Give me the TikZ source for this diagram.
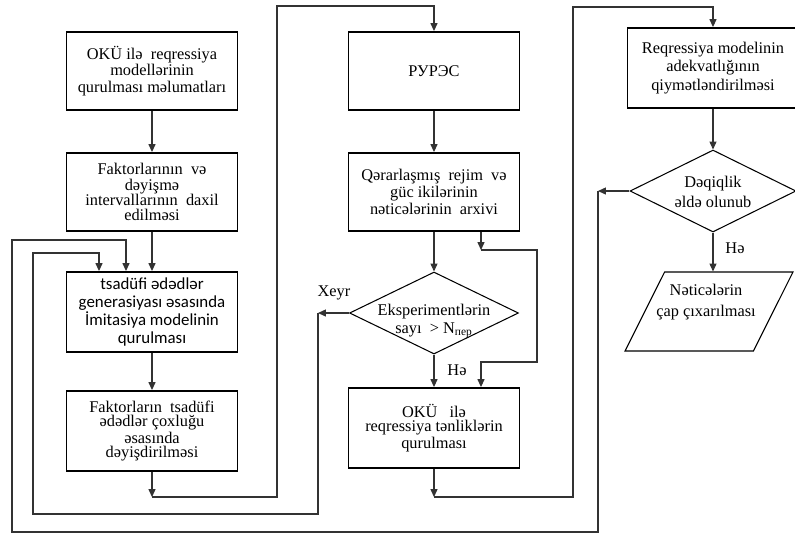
\documentclass[tikz,border=0pt]{standalone}
\usepackage{fontspec}
\setmainfont{Liberation Serif}
\newfontfamily\calib{Carlito}
\usetikzlibrary{shapes.geometric, arrows.meta}
\tikzset{
	>={Triangle[length=4.5pt,width=4pt]}, % puntas de flecha rellenas
	blk/.style={draw, line width=1.1pt, minimum width=3.42cm, minimum height=1.56cm, inner sep=1pt, align=center, font=\fontsize{9.3}{9.5}\selectfont}, % bloques de proceso
	cond/.style={diamond, draw, line width=0.6pt, minimum width=3.38cm, minimum height=1.64cm, inner sep=1pt}, % bloques de decision
	salida/.style={trapezium, trapezium left angle=66, trapezium right angle=114, trapezium stretches=true, draw, line width=0.6pt, minimum width=3.36cm, minimum height=1.58cm, inner sep=1pt}, % bloque de impresion
	txt/.style={align=center, inner sep=0pt, font=\fontsize{9.3}{10.2}\selectfont}, % textos sueltos
	lnk/.style={line width=0.6pt, draw=black!80} % conectores
}

\begin{document}
\begin{tikzpicture}[x=0.02cm, y=-0.02cm]
	\useasboundingbox (0,0) rectangle (795,535);
	\clip (0,0) rectangle (795,535);
	% primera columna
	\node[blk] (box1) at (152,71) {OKÜ ilə\ \ reqressiya\\ modellərinin\\ qurulması məlumatları};
	\node[blk, font=\fontsize{9.3}{8.6}\selectfont] (box2) at (152,192) {Faktorlarının\ \ və\\ dəyişmə\\ intervallarının\ \ daxil\\ edilməsi};
	\node[blk, minimum height=1.6cm, font=\calib\fontsize{9.6}{10.3}\selectfont] (box3) at (152,312) {tsadüfi ədədlər\\ generasiyası əsasında\\ İmitasiya modelinin\\ qurulması};
	\node[blk, minimum height=1.6cm, font=\fontsize{9.3}{8}\selectfont] (box4) at (152,431) {Faktorların\ \ tsadüfi\\ ədədlər çoxluğu\\ əsasında\\ dəyişdirilməsi};
	% segunda columna
	\node[blk] (box5) at (434,71) {РУРЭС};
	\node[blk, font=\fontsize{9.3}{9.6}\selectfont] (box6) at (434,192) {Qərarlaşmış\ \ rejim\ \ və\\ güc ikilərinin\\ nəticələrinin\ \ arxivi};
	\node[cond] (dia1) at (434,313) {};
	\node[txt] (dia1txt) at (434,321) {Eksperimentlərin\\ sayı\ \ >\ N\textsubscript{пер}};
	\node[blk, minimum height=1.6cm, font=\fontsize{9.3}{7.8}\selectfont] (box7) at (434,428) {OKÜ\ \ \ ilə\\ reqressiya tənliklərin\\ qurulması};
	% tercera columna
	\node[blk, minimum height=1.6cm, font=\fontsize{9.3}{10.5}\selectfont] (box8) at (713,68) {Reqressiya modelinin\\ adekvatlığının\\ qiymətləndirilməsi};
	\node[cond, minimum width=3.32cm] (dia2) at (713,191) {};
	\node[txt, font=\fontsize{9.3}{11.3}\selectfont] (dia2txt) at (713,192) {Dəqiqlik\\ əldə olunub};
	\node[salida] (pech) at (709,311.5) {};
	\node[txt, font=\fontsize{9.3}{12}\selectfont] (pechtxt) at (706,302) {Nəticələrin\\ çap çıxarılması};
	% rotulos
	\node[txt] (xeyr) at (334,293) {Xeyr};
	\node[txt] (he1) at (457,370) {Hə};
	\node[txt] (he2) at (735,248) {Hə};
	% puntos de paso
	\coordinate (j1) at (152,497);
	\coordinate (j2) at (481,250);
	\coordinate (j3) at (318,313);
	\coordinate (j4) at (598,191);
	\coordinate (j5) at (434,497);
	\coordinate (k1) at (99,253);
	\coordinate (k2) at (126,240);
	% conectores
	\draw[lnk, ->] (box1) -- (box2);
	\draw[lnk, ->] (box2) -- (box3);
	\draw[lnk, ->] (box3) -- (box4);
	\draw[lnk, ->] (box4) -- (j1);
	\draw[lnk, ->] (j1) -| (277,6) -| (box5.north);
	\draw[lnk, ->] (box5) -- (box6);
	\draw[lnk, ->] (box6) -- (dia1);
	\draw[lnk, ->] (box6.south -| j2) -- (j2);
	\draw[lnk, ->] (j2) -| (537,362) -| (box7.north -| j2);
	\draw[lnk, ->] (dia1) -- (box7);
	\draw[lnk, ->] (dia1.west) -- (j3);
	\draw[lnk, ->] (j3) |- (33,514) |- (k1) -- (k1 |- box3.north);
	\draw[lnk, ->] (box7) -- (j5);
	\draw[lnk, ->] (j5) -| (573,7) -| (box8.north);
	\draw[lnk, ->] (box8) -- (dia2);
	\draw[lnk, ->] (dia2.west) -- (j4);
	\draw[lnk, ->] (j4) |- (12,532) |- (k2) -- (k2 |- box3.north);
	\draw[lnk, ->] (dia2.south) -- (dia2.south |- pech.north);
\end{tikzpicture}
\end{document}
